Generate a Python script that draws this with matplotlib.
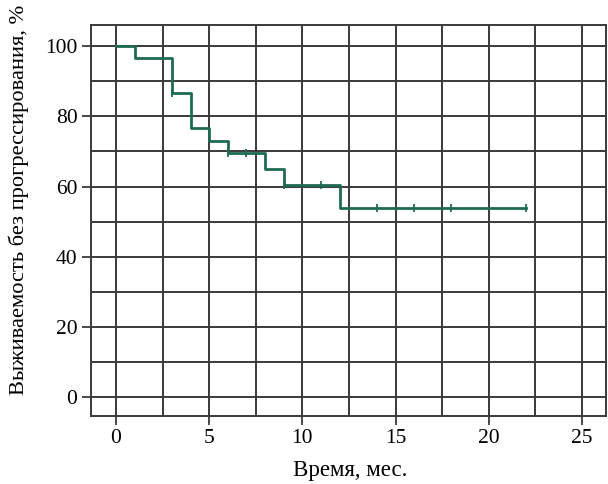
import matplotlib
matplotlib.use("Agg")
import matplotlib.pyplot as plt
import numpy as np

# Kaplan-Meier step data
times = [0, 1, 3, 4, 5, 6, 8, 9, 12, 22]
surv = [100, 96.7, 86.7, 76.7, 73.0, 69.5, 65.0, 60.5, 54.0, 54.0]
censor_t = [3, 6, 7, 9, 11, 14, 16, 18, 22]
x_ticks = [0, 5, 10, 15, 20, 25]
y_ticks = [0, 20, 40, 60, 80, 100]

plt.rcParams['font.family'] = ['Liberation Serif', 'DejaVu Serif']

fig = plt.figure(figsize=(6.08, 4.84), dpi=100)
ax = fig.add_axes([0.149, 0.140, 0.848, 0.808])

green = '#1f6b52'
ax.step(times, surv, where='post', color=green, lw=2.0, zorder=3)

# censored marks sit on the curve
cens_y = [surv[np.searchsorted(times, t, side='right') - 1] for t in censor_t]
ax.plot(censor_t, cens_y, ls='none', marker='|', ms=6, mew=1.3, color=green, zorder=4)

ax.set_xlim(-1.36, 26.3)
ax.set_ylim(-5.5, 106)
ax.set_xticks(x_ticks)
ax.set_yticks(y_ticks)
ax.set_xticks(np.arange(0, 27, 2.5), minor=True)
ax.set_yticks(np.arange(0, 101, 10), minor=True)
ax.grid(True, which='both', color='#3a3a3a', lw=1.4, zorder=1)
ax.set_axisbelow(True)

ax.tick_params(axis='both', which='major', direction='out', length=6.5, width=1.3,
               color='#3a3a3a', labelsize=15.5, pad=3)
ax.tick_params(axis='both', which='minor', length=0)
for s in ax.spines.values():
    s.set_color('#3a3a3a')
    s.set_linewidth(1.4)

ax.set_xlabel('Время, мес.', fontsize=16.5, va='center')
ax.xaxis.set_label_coords(0.503, -0.138)
ax.set_ylabel('Выживаемость без прогрессирования, %', fontsize=16.2, va='center')
ax.yaxis.set_label_coords(-0.139, 0.552)

fig.savefig('out.png', dpi=100)
